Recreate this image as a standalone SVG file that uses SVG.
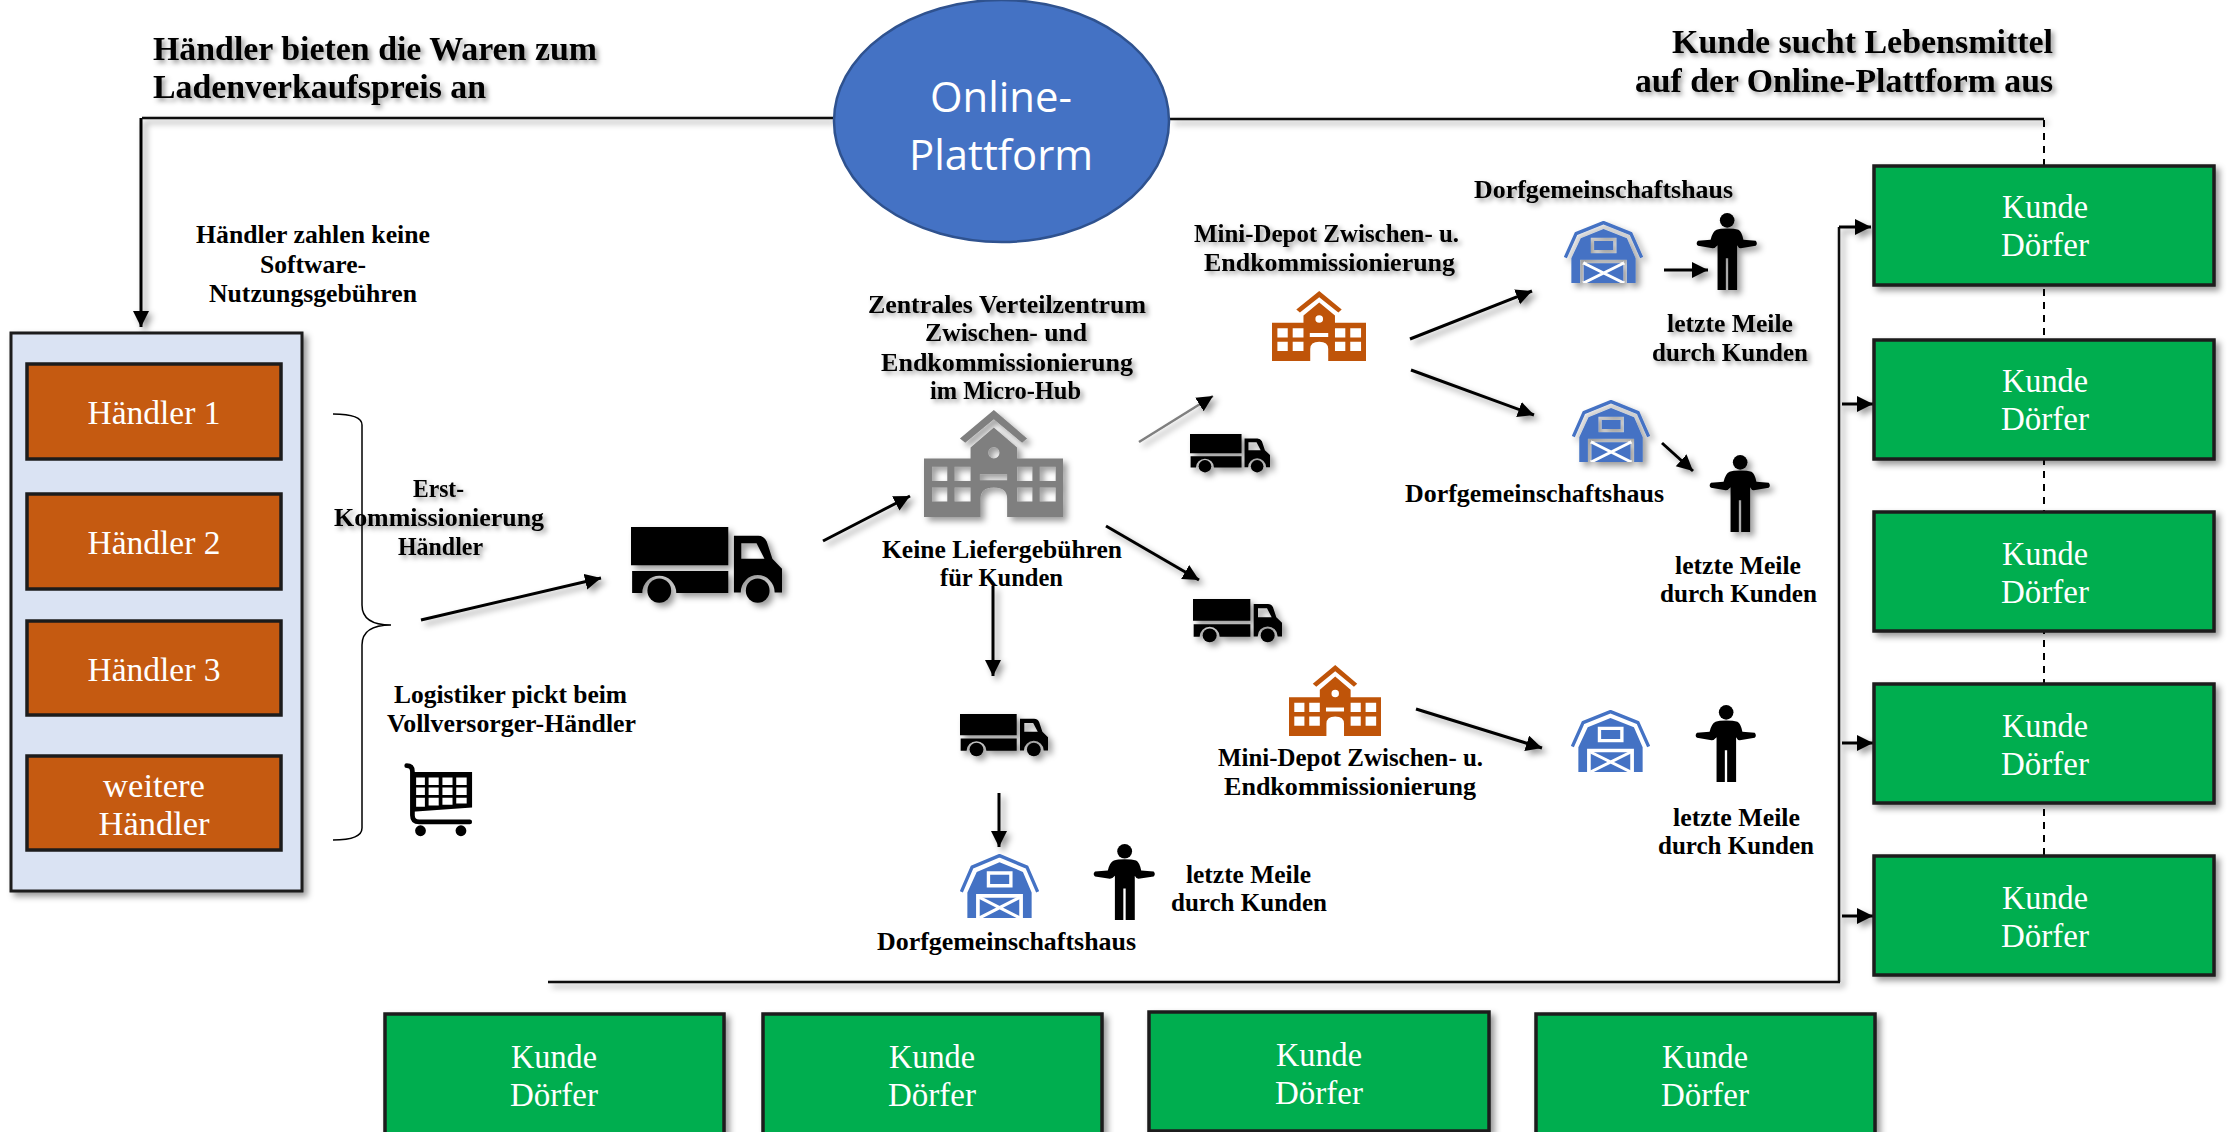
<svg xmlns="http://www.w3.org/2000/svg" width="2229" height="1132" viewBox="0 0 2229 1132">
<style>
text{font-family:"Liberation Serif","DejaVu Serif",serif;fill:#000}
.b{font-weight:bold;font-size:26px}
.t{font-weight:bold;font-size:34px}
.w{fill:#fff;font-size:34px;text-anchor:middle}
.c{stroke:#000;stroke-width:3;fill:none}
.l{stroke:#111;stroke-width:2.5;fill:none}
.a{marker-end:url(#ah)}
.s{filter:url(#sh)}
.box{stroke:#1c1c1c;stroke-width:3.5;fill:#00AE50;filter:url(#sh)}
.h{stroke:#1c1c1c;stroke-width:3.5;fill:#C55A11}
</style>
<defs>
<filter id="sh" x="-20%" y="-20%" width="150%" height="150%"><feDropShadow dx="4" dy="4" stdDeviation="3" flood-color="#000" flood-opacity=".4"/></filter>
<filter id="ts" x="-10%" y="-30%" width="125%" height="180%"><feDropShadow dx="3" dy="3" stdDeviation="2.5" flood-color="#000" flood-opacity=".4"/></filter>
<marker id="ah" markerUnits="userSpaceOnUse" markerWidth="18" markerHeight="18" refX="16" refY="8" orient="auto"><path d="M0 0L16 8L0 16Z" fill="#000"/></marker>
<symbol id="truck" viewBox="0 0 267 133" preserveAspectRatio="none">
<path d="M0 0H172V66H0ZM2 76H172V114H80A30 30 0 0 0 20 114H2Z"/>
<path fill-rule="evenodd" d="M182 15H225Q235 15 240 25L250 55L267 72V113H254A30 30 0 0 0 194 113H182ZM195 28V55H236L222 28Z"/>
<circle cx="50" cy="110" r="21"/><circle cx="224" cy="110" r="21"/>
</symbol>
<symbol id="school" viewBox="0 0 418 320" preserveAspectRatio="none">
<path d="M108 85L210 0L310 85L295 98L210 28L124 98Z"/>
<path fill-rule="evenodd" d="M140 145V112L210 52L280 112V145H418V320H250V265Q250 232 210 232Q170 232 170 265V320H0V145ZM24 170V212H70V170ZM92 170V212H140V170ZM280 170V212H326V170ZM348 170V212H396V170ZM24 232V274H70V232ZM92 232V274H140V232ZM280 232V274H326V232ZM348 232V274H396V232ZM168 192V210H250V192ZM193 128A17 17 0 1 0 227 128A17 17 0 1 0 193 128Z"/>
</symbol>
<symbol id="barn" viewBox="0 0 236 186" preserveAspectRatio="none">
<path d="M4 110L36 38L118 5L200 38L232 110" fill="none" stroke="#4472C4" stroke-width="10" stroke-linejoin="round"/>
<path fill-rule="evenodd" d="M22 186V112L50 52L118 24L188 52L214 112V186H188V116H48V186ZM80 50V97H157V50ZM90 60H147V87H90Z"/>
<path d="M59 127H177V186H59Z"/>
<path d="M58 126L179 186M179 126L58 186" stroke="#fff" stroke-width="9"/>
</symbol>
<symbol id="person" viewBox="0 0 187 230" preserveAspectRatio="none">
<circle cx="94" cy="22" r="22"/>
<path d="M62 50Q72 46 94 46Q116 46 128 50Q138 55 143 80L180 83Q187 91 180 98L135 105Q128 105 124 96V230H97V135H90V230H65V96Q58 105 50 105L6 98Q-2 91 6 83L44 80Q50 55 62 50Z"/>
</symbol>
</defs>
<rect width="2229" height="1132" fill="#fff"/>

<g id="connectors">
<g class="s">
<path class="l" d="M833 118H142"/>
<path class="c a" d="M141 118V327"/>
<path class="l" d="M1170 119H2044"/>
<path class="l" d="M548 982H1840"/>
<path class="l" d="M1839 982V227"/>
<path class="c a" d="M1839 227H1871"/>
<path class="c a" d="M1842 404H1873"/>
<path class="c a" d="M1842 743H1873"/>
<path class="c a" d="M1842 916H1873"/>
<path class="c a" d="M421 620L601 578"/>
<path class="c a" d="M823 541L910 496"/>
<path class="c a" d="M1139 442L1213 396" style="stroke:#7f7f7f;stroke-width:2.5"/>
<path class="c a" d="M1106 526L1199 580"/>
<path class="c a" d="M993 586V676"/>
<path class="c a" d="M999 793V847"/>
<path class="c a" d="M1410 339L1532 291"/>
<path class="c a" d="M1411 370L1534 415"/>
<path class="c a" d="M1664 270H1708"/>
<path class="c a" d="M1662 443L1693 471"/>
<path class="c a" d="M1416 709L1542 748"/>
</g>
<path d="M2044 120V860" stroke="#000" stroke-width="2" stroke-dasharray="7 6" fill="none"/>
<path id="brace" d="M333 414Q362 414 362 425V605Q362 625 391 625Q362 625 362 645V828Q362 840 333 840" fill="none" stroke="#000" stroke-width="1.5"/>
</g>

<g id="plattform">
<ellipse cx="1001.5" cy="121" rx="167.5" ry="121" fill="#4472C4" stroke="#2F528F" stroke-width="2.5"/>
<text x="1001" y="112" style="font-family:'Open Sans','Noto Sans',sans-serif;font-size:42px;fill:#fff;text-anchor:middle" textLength="142" lengthAdjust="spacingAndGlyphs">Online-</text>
<text x="1001" y="170" style="font-family:'Open Sans','Noto Sans',sans-serif;font-size:42px;fill:#fff;text-anchor:middle" textLength="184" lengthAdjust="spacingAndGlyphs">Plattform</text>
</g>

<g id="titel-links" filter="url(#ts)">
<text class="t" x="153" y="60" textLength="444" lengthAdjust="spacingAndGlyphs">Händler bieten die Waren zum</text>
<text class="t" x="153" y="98" textLength="333" lengthAdjust="spacingAndGlyphs">Ladenverkaufspreis an</text>
</g>
<g id="titel-rechts" filter="url(#ts)">
<text class="t" x="1672" y="53" textLength="381" lengthAdjust="spacingAndGlyphs">Kunde sucht Lebensmittel</text>
<text class="t" x="1635" y="92" textLength="418" lengthAdjust="spacingAndGlyphs">auf der Online-Plattform aus</text>
</g>

<g id="gebuehren">
<text class="b" x="196" y="243" textLength="234" lengthAdjust="spacingAndGlyphs">Händler zahlen keine</text>
<text class="b" x="260" y="273" textLength="106" lengthAdjust="spacingAndGlyphs">Software-</text>
<text class="b" x="209" y="302" textLength="208" lengthAdjust="spacingAndGlyphs">Nutzungsgebühren</text>
</g>

<g id="haendler">
<rect x="11" y="333" width="291" height="558" fill="#DAE3F3" stroke="#1c1c1c" stroke-width="3" class="s"/>
<g id="haendler-1"><rect class="h" x="27" y="364" width="254" height="95"/><text class="w" x="154" y="424" textLength="133" lengthAdjust="spacingAndGlyphs">Händler 1</text></g>
<g id="haendler-2"><rect class="h" x="27" y="494" width="254" height="95"/><text class="w" x="154" y="554" textLength="133" lengthAdjust="spacingAndGlyphs">Händler 2</text></g>
<g id="haendler-3"><rect class="h" x="27" y="621" width="254" height="94"/><text class="w" x="154" y="681" textLength="133" lengthAdjust="spacingAndGlyphs">Händler 3</text></g>
<g id="haendler-4"><rect class="h" x="27" y="756" width="254" height="94"/><text class="w" x="154" y="797" textLength="102" lengthAdjust="spacingAndGlyphs">weitere</text><text class="w" x="154" y="835" textLength="111" lengthAdjust="spacingAndGlyphs">Händler</text></g>
</g>

<g id="erst" filter="url(#ts)">
<text class="b" x="413" y="497" textLength="51" lengthAdjust="spacingAndGlyphs">Erst-</text>
<text class="b" x="334" y="526" textLength="210" lengthAdjust="spacingAndGlyphs">Kommissionierung</text>
<text class="b" x="398" y="555" textLength="85" lengthAdjust="spacingAndGlyphs">Händler</text>
</g>

<g id="logistiker">
<text class="b" x="394" y="703" textLength="233" lengthAdjust="spacingAndGlyphs">Logistiker pickt beim</text>
<text class="b" x="387" y="732" textLength="249" lengthAdjust="spacingAndGlyphs">Vollversorger-Händler</text>
<g id="wagen" transform="translate(404 763) scale(.337)">
<path d="M8 8Q25 8 25 25V155Q25 175 45 175H195" fill="none" stroke="#000" stroke-width="14" stroke-linecap="round"/>
<path fill-rule="evenodd" d="M25 27H202V132L25 145ZM36 43V65H62V43ZM73 43V65H103V43ZM114 43V65H144V43ZM155 43V65H186V43ZM36 73V95H62V73ZM73 73V95H103V73ZM114 73V95H144V73ZM155 73V95H186V73ZM36 103V130H62V103ZM73 103V126H103V103ZM114 103V124H144V103ZM155 103V120H186V103Z"/>
<circle cx="49" cy="201" r="16"/><circle cx="169" cy="201" r="16"/>
</g>
</g>

<g id="lkw-gross" class="s"><use href="#truck" x="631" y="527" width="151" height="77"/></g>

<g id="zentrum">
<g filter="url(#ts)">
<text class="b" x="868" y="313" textLength="278" lengthAdjust="spacingAndGlyphs">Zentrales Verteilzentrum</text>
<text class="b" x="925" y="341" textLength="162" lengthAdjust="spacingAndGlyphs">Zwischen- und</text>
<text class="b" x="881" y="371" textLength="252" lengthAdjust="spacingAndGlyphs">Endkommissionierung</text>
<text class="b" x="930" y="399" textLength="151" lengthAdjust="spacingAndGlyphs">im Micro-Hub</text>
</g>
<use href="#school" x="924" y="410" width="139" height="107" fill="#7F7F7F" class="s"/>
<text class="b" x="882" y="558" textLength="240" lengthAdjust="spacingAndGlyphs">Keine Liefergebühren</text>
<text class="b" x="940" y="586" textLength="123" lengthAdjust="spacingAndGlyphs">für Kunden</text>
</g>

<g id="lkw-1" class="s"><use href="#truck" x="1190" y="434" width="80" height="39"/></g>
<g id="lkw-2" class="s"><use href="#truck" x="1193" y="599" width="89" height="44"/></g>
<g id="lkw-3" class="s"><use href="#truck" x="960" y="714" width="88" height="43"/></g>

<g id="depot-1">
<g filter="url(#ts)">
<text class="b" x="1194" y="242" textLength="265" lengthAdjust="spacingAndGlyphs">Mini-Depot Zwischen- u.</text>
<text class="b" x="1204" y="271" textLength="251" lengthAdjust="spacingAndGlyphs">Endkommissionierung</text>
</g>
<use href="#school" x="1272" y="291" width="94" height="70" fill="#BF5409"/>
</g>
<g id="depot-2">
<use href="#school" x="1289" y="665" width="92" height="71" fill="#BF5409"/>
<text class="b" x="1218" y="766" textLength="265" lengthAdjust="spacingAndGlyphs">Mini-Depot Zwischen- u.</text>
<text class="b" x="1224" y="795" textLength="252" lengthAdjust="spacingAndGlyphs">Endkommissionierung</text>
</g>

<g id="haus-1">
<text class="b" x="1474" y="198" textLength="259" lengthAdjust="spacingAndGlyphs" filter="url(#ts)">Dorfgemeinschaftshaus</text>
<use href="#barn" x="1564" y="221" width="79" height="62" fill="#4472C4" class="s"/>
</g>
<g id="haus-2">
<use href="#barn" x="1572" y="400" width="78" height="62" fill="#4472C4" class="s"/>
<text class="b" x="1405" y="502" textLength="259" lengthAdjust="spacingAndGlyphs">Dorfgemeinschaftshaus</text>
</g>
<g id="haus-3"><use href="#barn" x="1571" y="710" width="79" height="62" fill="#4472C4"/></g>
<g id="haus-4">
<use href="#barn" x="960" y="854" width="79" height="64" fill="#4472C4"/>
<text class="b" x="877" y="950" textLength="259" lengthAdjust="spacingAndGlyphs">Dorfgemeinschaftshaus</text>
</g>

<g id="meile-1">
<use href="#person" x="1696" y="213" width="62" height="77" class="s"/>
<g filter="url(#ts)">
<text class="b" x="1667" y="332" textLength="126" lengthAdjust="spacingAndGlyphs">letzte Meile</text>
<text class="b" x="1652" y="361" textLength="156" lengthAdjust="spacingAndGlyphs">durch Kunden</text>
</g>
</g>
<g id="meile-2">
<use href="#person" x="1709" y="455" width="62" height="77" class="s"/>
<text class="b" x="1675" y="574" textLength="126" lengthAdjust="spacingAndGlyphs">letzte Meile</text>
<text class="b" x="1660" y="602" textLength="157" lengthAdjust="spacingAndGlyphs">durch Kunden</text>
</g>
<g id="meile-3">
<use href="#person" x="1695" y="705" width="62" height="77"/>
<text class="b" x="1673" y="826" textLength="127" lengthAdjust="spacingAndGlyphs">letzte Meile</text>
<text class="b" x="1658" y="854" textLength="156" lengthAdjust="spacingAndGlyphs">durch Kunden</text>
</g>
<g id="meile-4">
<use href="#person" x="1093" y="844" width="63" height="76"/>
<text class="b" x="1186" y="883" textLength="125" lengthAdjust="spacingAndGlyphs">letzte Meile</text>
<text class="b" x="1171" y="911" textLength="156" lengthAdjust="spacingAndGlyphs">durch Kunden</text>
</g>

<g id="kunde-r1"><rect class="box" x="1874" y="166" width="340" height="119"/><text class="w" x="2045" y="218" textLength="86" lengthAdjust="spacingAndGlyphs">Kunde</text><text class="w" x="2045" y="256" textLength="88" lengthAdjust="spacingAndGlyphs">Dörfer</text></g>
<g id="kunde-r2"><rect class="box" x="1874" y="340" width="340" height="119"/><text class="w" x="2045" y="392" textLength="86" lengthAdjust="spacingAndGlyphs">Kunde</text><text class="w" x="2045" y="430" textLength="88" lengthAdjust="spacingAndGlyphs">Dörfer</text></g>
<g id="kunde-r3"><rect class="box" x="1874" y="512" width="340" height="119"/><text class="w" x="2045" y="565" textLength="86" lengthAdjust="spacingAndGlyphs">Kunde</text><text class="w" x="2045" y="603" textLength="88" lengthAdjust="spacingAndGlyphs">Dörfer</text></g>
<g id="kunde-r4"><rect class="box" x="1874" y="684" width="340" height="119"/><text class="w" x="2045" y="737" textLength="86" lengthAdjust="spacingAndGlyphs">Kunde</text><text class="w" x="2045" y="775" textLength="88" lengthAdjust="spacingAndGlyphs">Dörfer</text></g>
<g id="kunde-r5"><rect class="box" x="1874" y="856" width="340" height="119"/><text class="w" x="2045" y="909" textLength="86" lengthAdjust="spacingAndGlyphs">Kunde</text><text class="w" x="2045" y="947" textLength="88" lengthAdjust="spacingAndGlyphs">Dörfer</text></g>

<g id="kunde-u1"><rect class="box" x="385" y="1014" width="339" height="125"/><text class="w" x="554" y="1068" textLength="86" lengthAdjust="spacingAndGlyphs">Kunde</text><text class="w" x="554" y="1106" textLength="88" lengthAdjust="spacingAndGlyphs">Dörfer</text></g>
<g id="kunde-u2"><rect class="box" x="763" y="1014" width="339" height="125"/><text class="w" x="932" y="1068" textLength="86" lengthAdjust="spacingAndGlyphs">Kunde</text><text class="w" x="932" y="1106" textLength="88" lengthAdjust="spacingAndGlyphs">Dörfer</text></g>
<g id="kunde-u3"><rect class="box" x="1149" y="1012" width="340" height="119"/><text class="w" x="1319" y="1066" textLength="86" lengthAdjust="spacingAndGlyphs">Kunde</text><text class="w" x="1319" y="1104" textLength="88" lengthAdjust="spacingAndGlyphs">Dörfer</text></g>
<g id="kunde-u4"><rect class="box" x="1536" y="1014" width="339" height="125"/><text class="w" x="1705" y="1068" textLength="86" lengthAdjust="spacingAndGlyphs">Kunde</text><text class="w" x="1705" y="1106" textLength="88" lengthAdjust="spacingAndGlyphs">Dörfer</text></g>
</svg>
